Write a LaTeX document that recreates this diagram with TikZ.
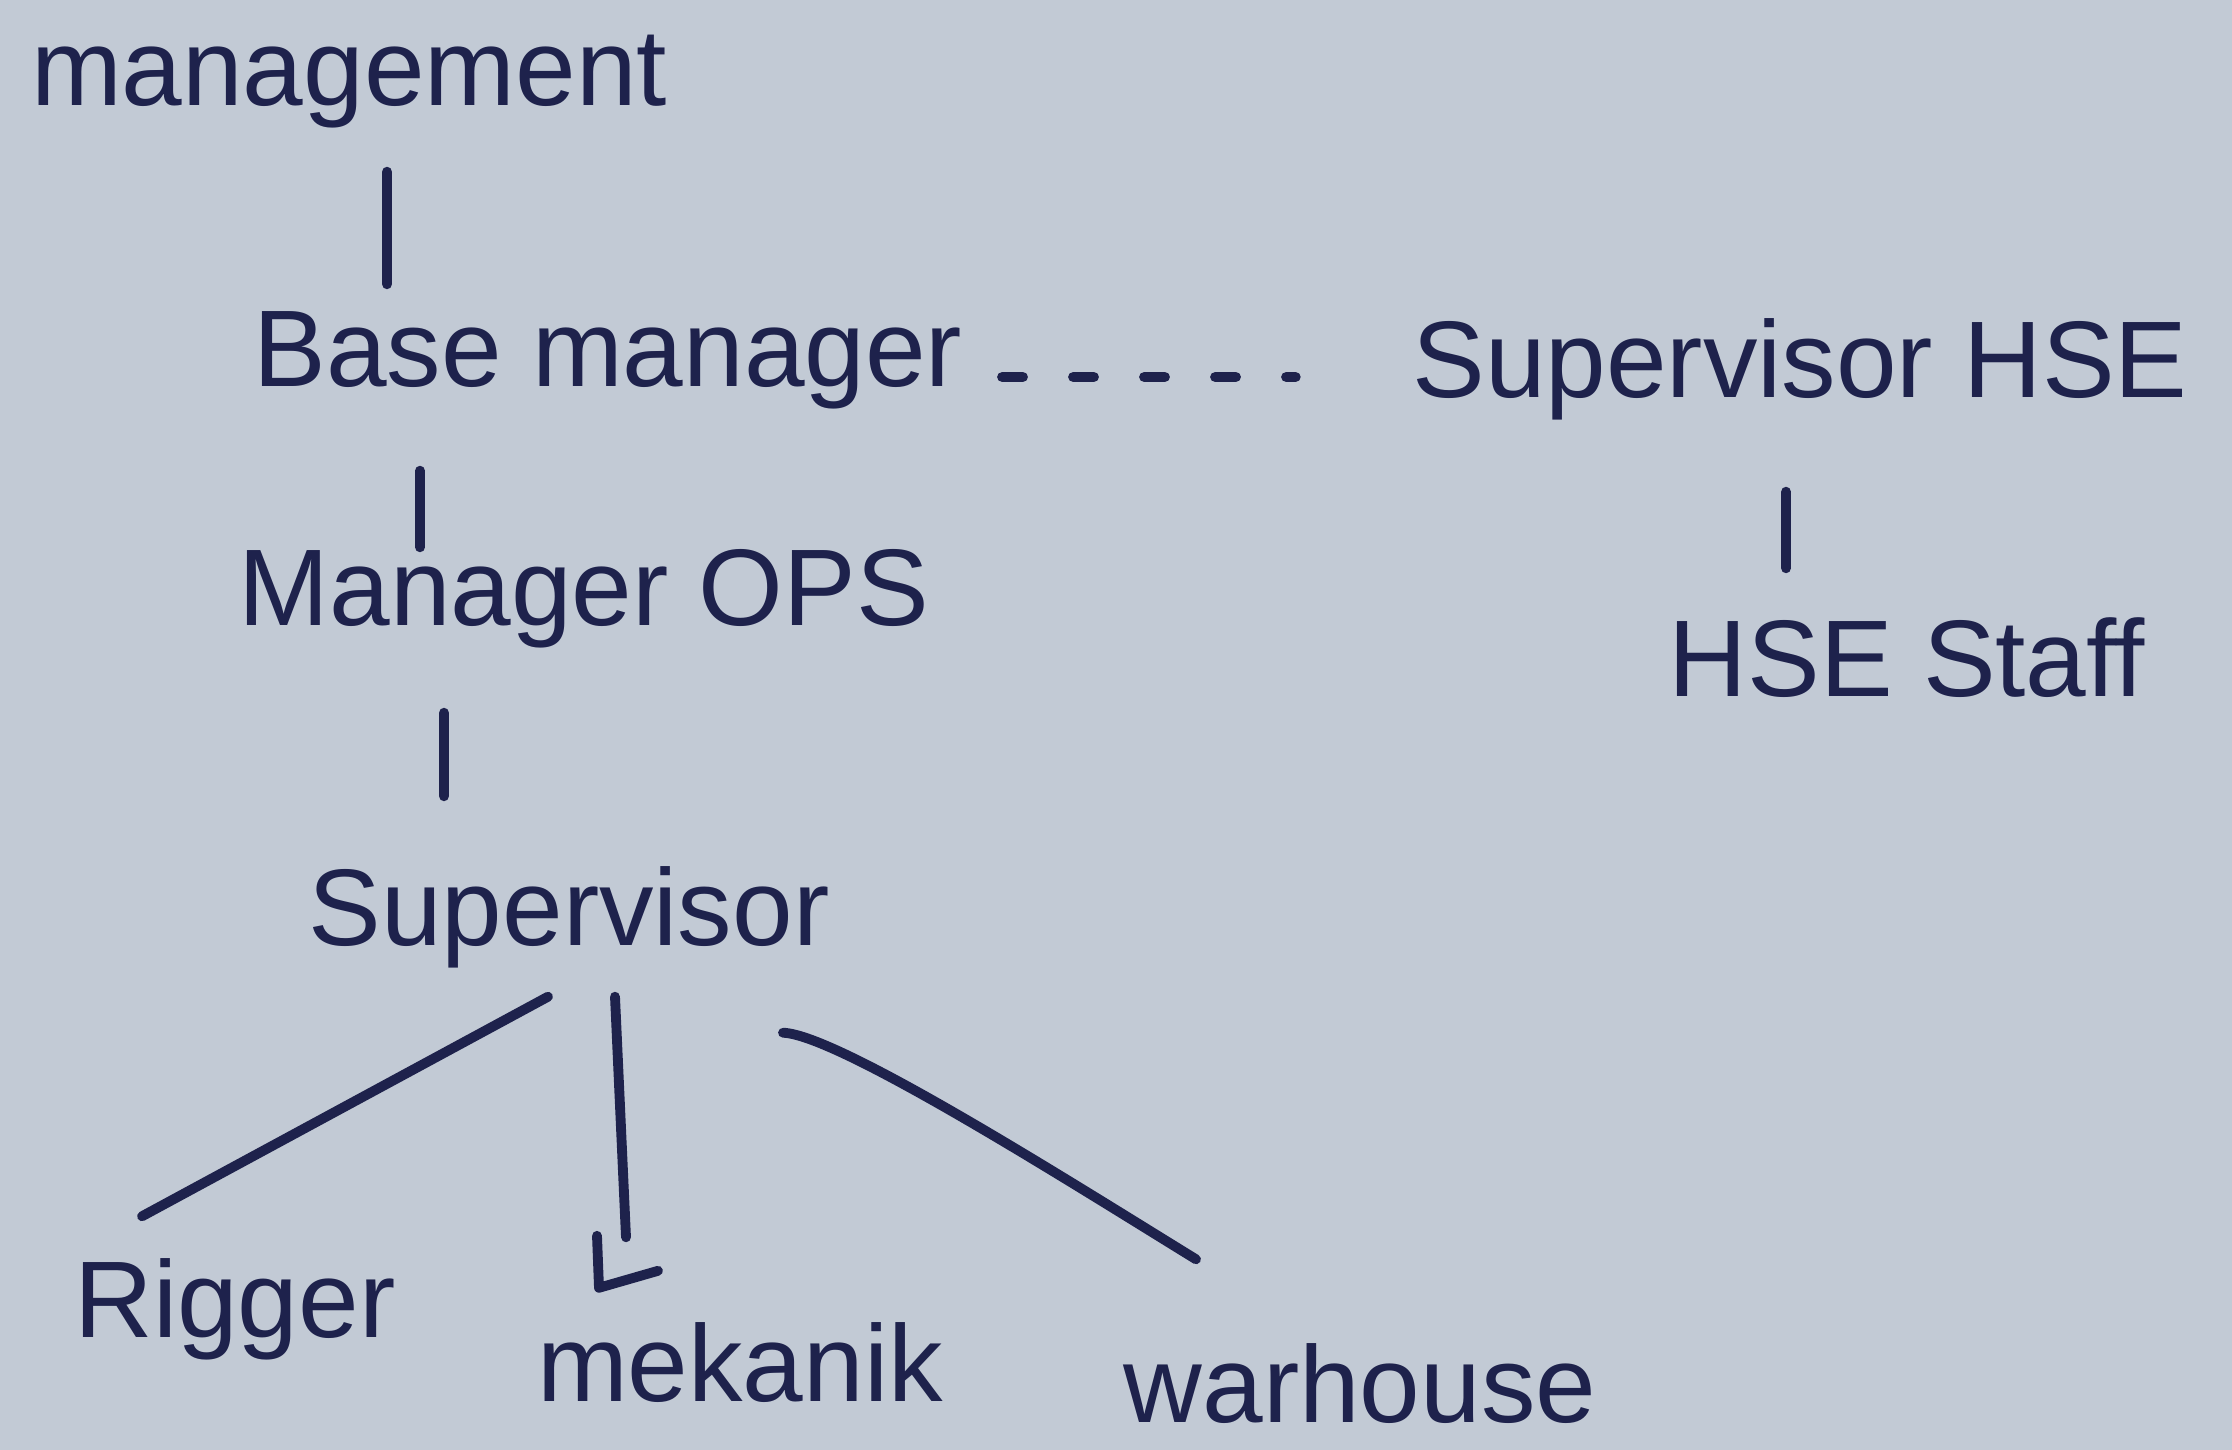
\documentclass[tikz,border=0pt]{standalone}
\usepackage{fontspec}
\setmainfont{Liberation Sans}
\definecolor{paper}{RGB}{194,202,213}
\definecolor{ink}{RGB}{30,34,76}
\begin{document}
\begin{tikzpicture}[role/.style={inner sep=0pt, text height=0.75cm, text depth=0.2cm, text=ink, font=\fontsize{31}{37}\selectfont},
link/.style={draw, ink, line width=2.8pt, line cap=round, line join=round}]
\fill[paper] (0,0) rectangle (22.32,-14.5);
\useasboundingbox (0,0) rectangle (22.32,-14.5);
\node[role] (1) at (3.49,-0.78) {management};
\node[role] (2) at (6.08,-3.59) {Base manager};
\node[role] (3) at (18.0,-3.70) {Supervisor HSE};
\node[role] (4) at (5.84,-5.98) {Manager OPS};
\node[role] (5) at (19.07,-6.69) {HSE Staff};
\node[role] (6) at (5.69,-9.18) {Supervisor};
\node[role] (7) at (2.35,-13.10) {Rigger};
\node[role] (8) at (7.40,-13.74) {mekanik};
\node[role] (9) at (13.60,-13.95) {warhouse};
\path[link] ([shift={(0.38,-0.455)}]1.south) -- ([shift={(-2.21,0.265)}]2.north);
\path[link] ([shift={(-1.88,-0.635)}]2.south) -- ([shift={(-1.64,0.025)}]4.north);
\path[link] ([shift={(-1.40,-0.665)}]4.south) -- ([shift={(-1.25,0.735)}]6.north);
\path[link] ([shift={(-0.14,-0.735)}]3.south) -- ([shift={(-1.21,0.525)}]5.north);
\path[link, dash pattern=on 0.21cm off 0.5cm] ([shift={(0.39,-0.18)}]2.east) -- ([shift={(-1.16,-0.07)}]3.west);
\path[link] ([shift={(-0.21,-0.305)}]6.south) -- ([shift={(-0.93,0.455)}]7.north);
\path[link] ([shift={(0.46,-0.305)}]6.south) -- ([shift={(-1.14,0.885)}]8.north)
  ([shift={(-1.43,0.90)}]8.north) -- ([shift={(-1.41,0.38)}]8.north) -- ([shift={(-0.82,0.55)}]8.north);
\path[link] ([shift={(2.14,-0.665)}]6.south) .. controls +(0.55,-0.02) and +(-1.3,0.8) .. ([shift={(-1.64,0.875)}]9.north);
\end{tikzpicture}
\end{document}
